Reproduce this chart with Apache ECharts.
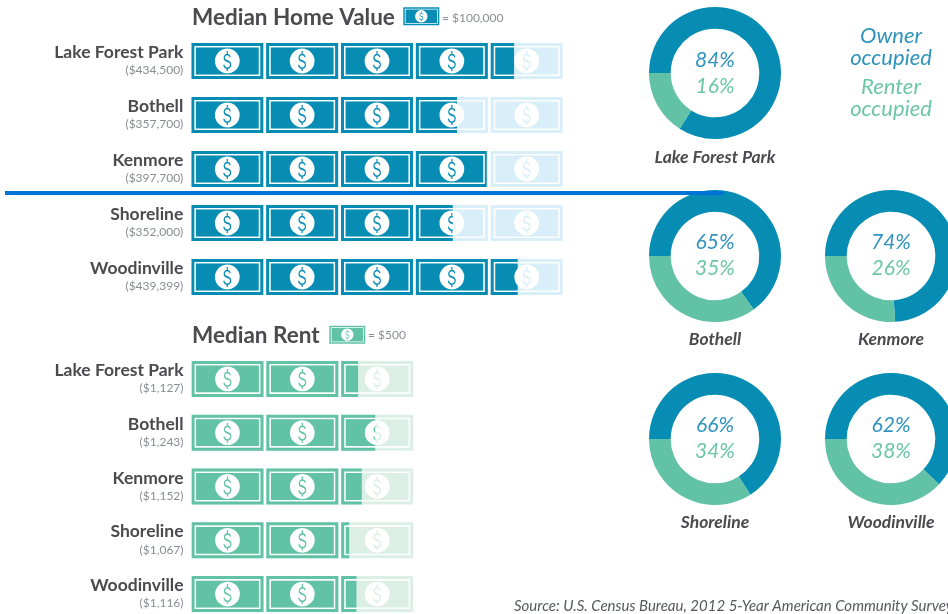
<!DOCTYPE html>
<html><head><meta charset="utf-8">
<style>html,body{margin:0;padding:0;background:#fff;overflow:hidden}#c{width:948px;height:614px}</style>
<script src="https://cdn.jsdelivr.net/npm/echarts@6/dist/echarts.min.js"></script>
</head><body><div id="c"></div>
<script>
const places = ['Lake Forest Park','Bothell','Kenmore','Shoreline','Woodinville'];
const homeValues = [434500,357700,397700,352000,439399];
const rentValues = [1127,1243,1152,1067,1116];
const ownerShares = [84,65,74,66,62];
const renterShares = [16,35,26,34,38];
const homeUnit = 100000, homeIcons = 5;
const rentUnit = 500, rentIcons = 3;

const BLUE='#078db3', GREEN='#61c2a6', LBLUE='#d8eef8', LGREEN='#dcefe4', DARK='#4a4a4f', GREY='#8a8d92';
const FONT='Lato';
const bill='path://M0 0H72V36H0ZM3 3V33H69V3ZM4.6 4.6H67.4V31.4H4.6Z'
 +'M48.4 18A12.4 12.4 0 1 0 23.6 18A12.4 12.4 0 1 0 48.4 18Z'
 +'M39.4 13.92C38.89 11.76 37.62 10.8 36 10.8C33.96 10.8 32.35 12.48 32.35 14.88C32.35 17.4 33.96 18.24 36.09 18.96C37.87 19.56 38.72 20.28 38.72 21.6C38.72 23.28 37.53 24.48 36 24.48C34.47 24.48 33.45 23.4 33.03 21.6L31.92 22.08C32.52 24.6 34.05 26.04 36 26.04C38.21 26.04 39.91 24.24 39.91 21.6C39.91 18.96 38.38 18 36.34 17.28C34.47 16.68 33.54 16.08 33.54 14.76C33.54 13.32 34.64 12.36 36 12.36C37.19 12.36 38.04 13.2 38.38 14.4Z'
 +'M35.4 8H36.6V10.9H35.4ZM35.4 25.9H36.6V28H35.4Z';
const fmt = v => '$' + v.toLocaleString('en-US');

const grids=[{left:191.3,top:34,width:371.4,height:270,outerBoundsMode:'none'},
             {left:191.5,top:352,width:221.7,height:269,outerBoundsMode:'none'}];
const panels=[[homeValues,homeUnit,homeIcons,BLUE,LBLUE],[rentValues,rentUnit,rentIcons,GREEN,LGREEN]];
const xAxis=[],yAxis=[],series=[];
panels.forEach((p,i)=>{
  const [vals,unit,icons,col,light]=p, max=unit*icons;
  xAxis.push({type:'value',gridIndex:i,min:0,max:max,show:false});
  yAxis.push({type:'category',gridIndex:i,inverse:true,data:places.map((n,k)=>n+'|'+fmt(vals[k])),
    axisLine:{show:false},axisTick:{show:false},
    axisLabel:{margin:8,align:'right',interval:0,padding:[0,0,2,0],
      formatter:s=>{const a=s.split('|');return '{n|'+a[0]+'}\n{v|('+a[1]+')}';},
      rich:{n:{fontFamily:FONT,fontSize:17.5,fontWeight:'bold',color:DARK,lineHeight:21,align:'right'},
            v:{fontFamily:FONT,fontSize:12,color:GREY,lineHeight:15,align:'right'}}}});
  const base={type:'pictorialBar',xAxisIndex:i,yAxisIndex:i,symbol:bill,symbolSize:[72,36],symbolRepeat:icons,
    symbolBoundingData:max,barGap:'-100%',silent:true,animation:false};
  series.push(Object.assign({},base,{z:2,itemStyle:{color:light},data:vals.map(()=>max)}));
  series.push(Object.assign({},base,{z:3,symbolClip:true,itemStyle:{color:col},data:vals}));
});
// legend keys: one bill = one unit
[[403.3,7.3,homeUnit,BLUE],[329.3,325.7,rentUnit,GREEN]].forEach((k,j)=>{
  const idx=grids.length;
  grids.push({left:k[0],top:k[1],width:36,height:18,outerBoundsMode:'none'});
  xAxis.push({type:'value',gridIndex:idx,min:0,max:k[2],show:false});
  yAxis.push({type:'category',gridIndex:idx,data:['key'],show:false});
  series.push({type:'pictorialBar',xAxisIndex:idx,yAxisIndex:idx,symbol:bill,symbolSize:[36,18],silent:true,
    animation:false,symbolPosition:'start',itemStyle:{color:k[3]},data:[k[2]]});
});

const centers=[[715,73],[715,256],[891,256],[715,439],[891,439]];
const graphic=[];
places.forEach((n,i)=>{
  series.push({type:'pie',silent:true,animation:false,center:centers[i],radius:[44.3,66],startAngle:180,
    clockwise:true,labelLine:{show:false},
    data:[{value:ownerShares[i],name:'Owner occupied',itemStyle:{color:BLUE},
        label:{show:true,position:'center',padding:[0,0,i?2:0,0],formatter:'{o|'+ownerShares[i]+'%}\n{r|'+renterShares[i]+'%}',
          rich:{o:{fontFamily:FONT,fontStyle:'italic',fontSize:21,color:'#2f93bd',lineHeight:26},
                r:{fontFamily:FONT,fontStyle:'italic',fontSize:21,color:'#6cc6a9',lineHeight:26}}}},
      {value:renterShares[i],name:'Renter occupied',itemStyle:{color:GREEN},label:{show:false}}]});
  graphic.push({type:'text',z:5,style:{text:n,x:centers[i][0],y:centers[i][1]+(i?83:84),align:'center',verticalAlign:'middle',
    font:'italic bold 17.5px '+FONT,fill:DARK}});
});
const txt=(t,x,y,f,c,al)=>graphic.push({type:'text',z:5,style:{text:t,x,y,align:al||'left',verticalAlign:'middle',font:f,fill:c}});
txt('Median Home Value',192,18,'bold 22.5px '+FONT,DARK);
txt('= $100,000',442,18,'12px '+FONT,GREY);
txt('Median Rent',192,336,'bold 22.5px '+FONT,DARK);
txt('= $500',368,335,'12px '+FONT,GREY);
txt('Owner',891,36,'italic 22px '+FONT,'#2f93bd','center');
txt('occupied',891,58,'italic 22px '+FONT,'#2f93bd','center');
txt('Renter',891,87,'italic 22px '+FONT,'#6cc6a9','center');
txt('occupied',891,109,'italic 22px '+FONT,'#6cc6a9','center');
txt('Source: U.S. Census Bureau, 2012 5-Year American Community Survey',514,606,'italic 15px '+FONT,'#55585c');
graphic.push({type:'rect',z:20,shape:{x:5,y:191,width:719,height:4},style:{fill:'#0073d6'}});

const chart=echarts.init(document.getElementById('c'),null,{renderer:'canvas'});
chart.setOption({animation:false,backgroundColor:'#fff',grid:grids,xAxis,yAxis,series,graphic});
</script></body></html>
